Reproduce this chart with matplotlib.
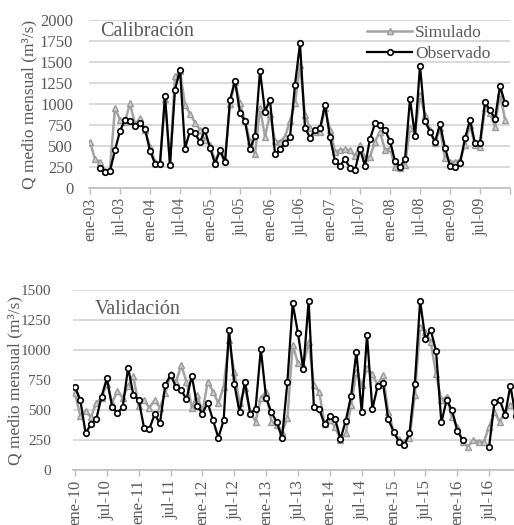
import numpy as np
import matplotlib
matplotlib.use("Agg")
import matplotlib.pyplot as plt

# Caudal medio mensual (m3/s), calibracion ene-03 .. dic-09
cal_obs = [np.nan, np.nan, 242, 190, 205, 450, 679, 812, 795, 738, 770, 700,
           445, 290, 290, 1100, 272, 1170, 1405, 470, 680, 650, 550, 685,
           480, 290, 450, 306, 1050, 1275, 895, 795, 466, 615, 1393, 909,
           1048, 401, 464, 532, 603, 1230, 1722, 718, 599, 690, 710, 988,
           603, 321, 266, 341, 242, 214, 460, 266, 583, 770, 750, 690,
           560, 321, 254, 341, 1060, 623, 1456, 798, 671, 552, 758, 480,
           266, 254, 294, 591, 810, 532, 540, 1020, 929, 821, 1218, 1008]
cal_sim = [552, 341, 313, 200, 230, 956, 810, 790, 1008, 760, 829, 690,
           492, 313, 294, 1060, 290, 1330, 1390, 990, 885, 778, 690, 567,
           508, 330, 440, 330, 1000, 1266, 1008, 800, 560, 401, 948, 611,
           880, 560, 552, 611, 798, 1008, 1464, 869, 710, 671, 671, 950,
           690, 433, 452, 460, 452, 381, 512, 361, 373, 552, 671, 452,
           472, 254, 234, 274, 710, 650, 1107, 869, 690, 532, 710, 353,
           313, 313, 333, 512, 750, 512, 492, 948, 889, 730, 1127, 810]

# validacion ene-10 .. dic-16
val_obs = [694, 583, 306, 381, 422, 611, 764, 528, 472, 528, 853, 625,
           583, 353, 342, 464, 389, 708, 792, 694, 665, 590, 786, 536,
           470, 561, 414, 269, 414, 1170, 717, 480, 736, 470, 508, 1008,
           597, 481, 397, 269, 731, 1389, 1139, 839, 1408, 522, 506, 381,
           450, 425, 258, 411, 617, 986, 481, 1125, 506, 700, 722, 425,
           319, 236, 208, 306, 717, 1408, 1089, 1167, 992, 397, 583, 500,
           328, 250, np.nan, np.nan, np.nan, np.nan, 194, 564, 583, 458, 703, 450]
val_sim = [640, 450, 490, 440, 560, 600, 720, 560, 660, 600, 700, 780,
           530, 580, 520, 580, 520, 640, 800, 730, 875, 736, 520, 625,
           486, 736, 653, 556, 694, 1083, 819, 556, 681, 486, 403, 597,
           653, 403, 375, 319, 430, 1042, 889, 875, 1069, 708, 653, 381,
           417, 361, 250, 306, 542, 819, 708, 847, 797, 708, 792, 486,
           320, 255, 236, 264, 625, 1194, 1153, 1069, 797, 583, 611, 444,
           361, 236, 194, 250, 236, 236, 361, 486, 403, 486, 542, 500]

cal_labels = ["ene-03", "jul-03", "ene-04", "jul-04", "ene-05", "jul-05", "ene-06",
              "jul-06", "ene-07", "jul-07", "ene-08", "jul-08", "ene-09", "jul-09"]
val_labels = ["ene-10", "jul-10", "ene-11", "jul-11", "ene-12", "jul-12", "ene-13",
              "jul-13", "ene-14", "jul-14", "ene-15", "jul-15", "ene-16", "jul-16"]

plt.rcParams["font.family"] = ["Liberation Serif", "DejaVu Serif"]

TXT = "#595959"
GRID = "#d9d9d9"
W, H = 514, 525

fig = plt.figure(figsize=(W / 100, H / 100), dpi=100)


def make_axes(x0, x1, y0, y1):
    # pixel box -> figure fractions
    return fig.add_axes([x0 / W, 1 - y1 / H, (x1 - x0) / W, (y1 - y0) / H])


def style(ax, sim, obs, labels, ymax, xfs, yfs, ypad):
    x = np.arange(len(sim))
    ax.plot(x, sim, color="#a3a3a3", lw=1.8, marker="^", ms=4.5,
            mfc="#d0d0d0", mec="#9a9a9a", mew=1.0, label="Simulado", zorder=3)
    ax.plot(x, obs, color="black", lw=1.6, marker="o", ms=4.0,
            mfc="white", mec="black", mew=1.2, label="Observado", zorder=4)
    ax.set_xlim(-0.3, 84)
    ax.set_ylim(0, ymax)
    ax.set_yticks(np.arange(0, ymax + 1, 250))
    ax.set_xticks(np.arange(0, 85, 6))
    ax.set_xticklabels(labels + [""], rotation=90)
    ax.grid(axis="y", color=GRID, lw=1.4, zorder=0)
    ax.set_axisbelow(True)
    for s in ["top", "right", "left"]:
        ax.spines[s].set_visible(False)
    ax.spines["bottom"].set_color("#bfbfbf")
    ax.spines["bottom"].set_linewidth(1.2)
    ax.tick_params(axis="x", colors="#bfbfbf", labelcolor=TXT, length=4,
                   width=1.0, labelsize=xfs, pad=3)
    ax.tick_params(axis="y", length=0, labelcolor=TXT, labelsize=yfs, pad=ypad)


# Calibracion
ax1 = make_axes(88.5, 510, 20, 188)
style(ax1, cal_sim, cal_obs, cal_labels, 2000, 11.5, 12, 11)
ax1.text(0.027, 0.93, "Calibración", transform=ax1.transAxes, fontsize=14.5,
         color=TXT, va="center", ha="left")
ax1.set_ylabel("Q medio mensual (m³/s)", fontsize=12.5, color=TXT)
ax1.yaxis.set_label_coords(-0.122, 0.5)
ax1.legend(loc="upper right", bbox_to_anchor=(0.99, 1.065), frameon=False,
           fontsize=12.5, labelcolor=TXT, handlelength=2.6, handletextpad=0.15,
           labelspacing=0.3)

# Validacion (the axis runs past the right edge of the picture)
ax2 = make_axes(73.4, 521, 290, 470)
style(ax2, val_sim, val_obs, val_labels, 1500, 12, 11, 16)
ax2.text(0.048, 0.89, "Validación", transform=ax2.transAxes, fontsize=14.5,
         color=TXT, va="center", ha="left")
ax2.set_ylabel("Q medio mensual (m³/s)", fontsize=12.5, color=TXT)
ax2.yaxis.set_label_coords(-0.112, 0.5)

fig.savefig("out.png", dpi=100)
